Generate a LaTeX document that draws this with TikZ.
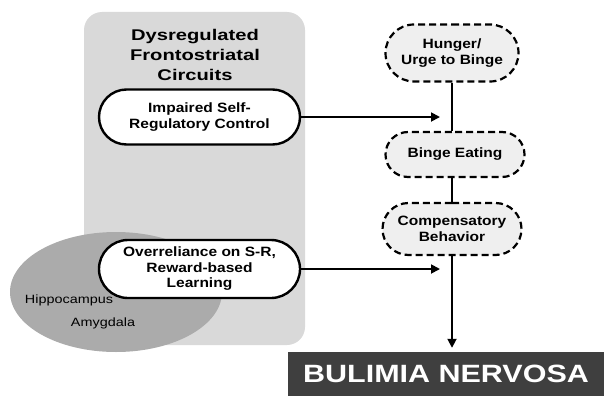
\documentclass[tikz,border=0pt]{standalone}
\usepackage{fontspec}
\setmainfont{Liberation Sans}
\newfontfamily\titlef{Liberation Sans}[FakeStretch=1.3]
\newfontfamily\nodef{Liberation Sans}[FakeStretch=1.15]
\newfontfamily\bigf{Liberation Sans}[FakeStretch=1.22]
\newfontfamily\labf{Liberation Sans}[FakeStretch=1.2]
\usetikzlibrary{shapes.misc,arrows.meta}
\definecolor{panel}{HTML}{D9D9D9}
\definecolor{blob}{HTML}{ABABAB}
\definecolor{dashfill}{HTML}{EFEFEF}
\definecolor{darkbar}{HTML}{3F3F3F}
\tikzset{
  solidbox/.style={rounded rectangle, draw=black, line width=2.4pt, fill=white,
    align=center, inner sep=2pt, font=\nodef\bfseries\fontsize{13.5}{15.5}\selectfont},
  dashbox/.style={rounded rectangle, draw=black, line width=2.2pt, dash pattern=on 7pt off 4pt,
    fill=dashfill, align=center, inner sep=2pt, font=\nodef\bfseries\fontsize{13.5}{16}\selectfont},
  conn/.style={line width=1.8pt, draw=black},
  arr/.style={conn, -{Triangle[length=9pt,width=9pt]}},
}
\begin{document}
\begin{tikzpicture}[x=1pt,y=-1pt]
\useasboundingbox (0,0) rectangle (604,396);
% panel
\fill[panel, rounded corners=18pt] (84,12) rectangle (305,345);
% ellipse
\fill[blob] (116,292) ellipse [x radius=106, y radius=60];
% title
\node[align=center, font=\titlef\bfseries\fontsize{15.5}{20}\selectfont] (title) at (195,55)
  {Dysregulated\\Frontostriatal\\Circuits};
% left nodes
\node[solidbox, minimum width=205pt, minimum height=55pt] (imp) at (199.5,117) {Impaired Self-\\Regulatory Control};
\node[solidbox, minimum width=205pt, minimum height=58pt] (over) at (199.5,269) {Overreliance on S-R,\\Reward-based\\Learning};
% labels
\node[font=\labf\fontsize{12}{14}\selectfont] (hip) at (69,300) {Hippocampus};
\node[font=\labf\fontsize{12}{14}\selectfont] (amy) at (103,323) {Amygdala};
% right chain
\node[dashbox, minimum width=137pt, minimum height=57pt] (hun) at (452,53) {Hunger/\\Urge to Binge};
\node[dashbox, minimum width=143pt, minimum height=45pt] (bin) at (455,154.5) {Binge Eating};
\node[dashbox, minimum width=143pt, minimum height=52pt] (comp) at (452,229) {Compensatory\\Behavior};
% bulimia bar
\node[fill=darkbar, text=white, minimum width=316pt, minimum height=44pt, inner sep=0pt,
  font=\bigf\bfseries\fontsize{25}{28}\selectfont] (bul) at (446,374) {BULIMIA NERVOSA};
% connectors
\coordinate (a1) at (440,117);
\coordinate (a2) at (440,269);
\draw[arr] (imp.east) -- (a1);
\draw[arr] (over.east) -- (a2);
\draw[conn] (hun.south) -- (hun.south |- bin.north);
\draw[conn] (hun.south |- bin.south) -- (comp.north);
\draw[arr, shorten >=4pt] (comp.south) -- (comp.south |- bul.north);
\end{tikzpicture}
\end{document}
